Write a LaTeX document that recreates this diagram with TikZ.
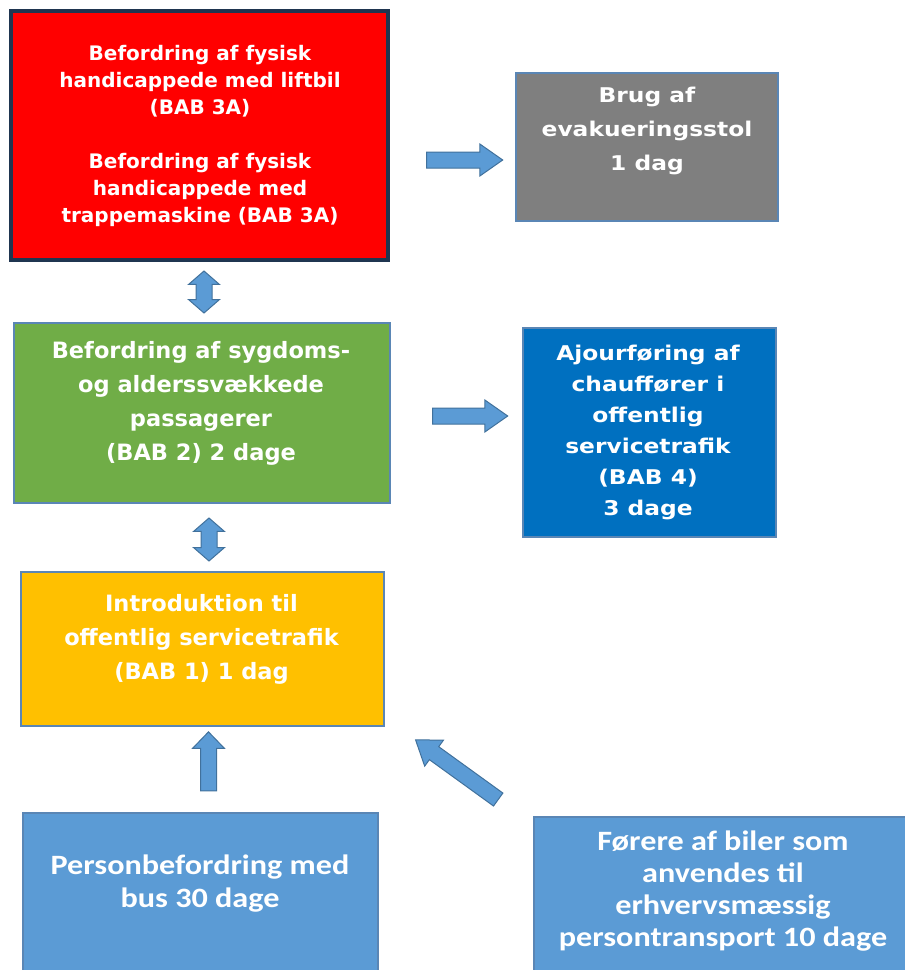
\documentclass[tikz,border=0pt]{standalone}
\usepackage{fontspec}
\setmainfont{DejaVu Sans}
\newfontfamily\widefont{DejaVu Sans}[FakeStretch=1.15]
\newfontfamily\calfont{Carlito}[FakeStretch=1.15]
\usetikzlibrary{shapes.arrows}
\definecolor{redfill}{HTML}{FF0000}
\definecolor{redline}{HTML}{1F3550}
\definecolor{grayfill}{HTML}{7F7F7F}
\definecolor{greenfill}{HTML}{70AD47}
\definecolor{bluefill}{HTML}{0070C0}
\definecolor{yellowfill}{HTML}{FFC000}
\definecolor{lightfill}{HTML}{5B9BD5}
\definecolor{boxline}{HTML}{5A86B5}
\definecolor{arrowline}{HTML}{41719C}
\tikzset{box/.style = {rectangle, draw = boxline, line width = 1.2pt, inner sep = 0}}
\tikzset{txt/.style 2 args = {text = white, align = center, inner sep = 0,
                              font = \bfseries\fontsize{#1}{#2}\selectfont}}
\tikzset{wtxt/.style 2 args = {text = white, align = center, inner sep = 0,
                               font = \widefont\bfseries\fontsize{#1}{#2}\selectfont}}
\tikzset{ctxt/.style 2 args = {text = white, align = center, inner sep = 0,
                               font = \calfont\bfseries\fontsize{#1}{#2}\selectfont}}
\tikzset{blk/.style = {single arrow, draw = arrowline, fill = lightfill, line width = 1pt,
                       inner xsep = 0, inner ysep = 7.5pt, minimum width = 0pt,
                       single arrow head extend = 8pt, single arrow tip angle = 70,
                       sloped, allow upside down}}
\tikzset{dbl/.style = {double arrow, draw = arrowline, fill = lightfill, line width = 1pt,
                       inner xsep = 0, inner ysep = 7.5pt, minimum width = 0pt,
                       double arrow head extend = 7.5pt, double arrow tip angle = 98,
                       sloped, allow upside down}}

\begin{document}
\begin{tikzpicture}[x = 1pt, y = -1pt]
      \useasboundingbox (0, 0) rectangle (905, 970);
      \clip (0, 0) rectangle (905, 970);

      \node [box, fill = redfill, draw = redline, line width = 4.5pt,
             minimum width = 377pt, minimum height = 249pt] (bab3) at (199.5, 135.5) {};
      \node [txt = {20}{27}] (bab3txt) at (200, 136)
            {Befordring af fysisk\\handicappede med liftbil\\(BAB 3A)\\[27pt]
             Befordring af fysisk\\handicappede med\\trappemaskine (BAB 3A)};

      \node [box, fill = grayfill, minimum width = 262pt, minimum height = 148pt] (stol) at (647, 147) {};
      \node [wtxt = {20.3}{34}] (stoltxt) at (647, 131) {Brug af\\evakueringsstol\\1 dag};

      \node [box, fill = greenfill, minimum width = 376pt, minimum height = 180pt] (bab2) at (202, 413) {};
      \node [txt = {22.5}{34}] (bab2txt) at (201, 403)
            {Befordring af sygdoms-\\og alderssvækkede\\passagerer\\(BAB 2) 2 dage};

      \node [box, fill = bluefill, minimum width = 253pt, minimum height = 209pt] (bab4) at (649.5, 432.5) {};
      \node [wtxt = {20.3}{31}] (bab4txt) at (648, 432.5)
            {Ajourføring af\\chauffører i\\offentlig\\servicetrafik\\(BAB 4)\\3 dage};

      \node [box, fill = yellowfill, minimum width = 363pt, minimum height = 154pt] (bab1) at (202.5, 649) {};
      \node [txt = {22.5}{34}] (bab1txt) at (201.5, 639)
            {Introduktion til\\offentlig servicetrafik\\(BAB 1) 1 dag};

      \node [box, fill = lightfill, minimum width = 355pt, minimum height = 187pt] (bus) at (200.5, 906.5) {};
      \node [ctxt = {28}{33}] (bustxt) at (200, 883.5) {Personbefordring med\\bus 30 dage};

      \node [box, fill = lightfill, minimum width = 378pt, minimum height = 183pt] (biler) at (723, 908.5) {};
      \node [ctxt = {28}{32}] (bilertxt) at (723, 891)
            {Førere af biler som\\anvendes til\\erhvervsmæssig\\persontransport 10 dage};

      \coordinate (a1s) at (421, 160);
      \coordinate (a1e) at (497, 160);
      \coordinate (a2s) at (427, 416);
      \coordinate (a2e) at (502, 416);
      \coordinate (d1s) at (204, 271);
      \coordinate (d1e) at (204, 313);
      \coordinate (d2s) at (209, 518);
      \coordinate (d2e) at (209, 561);
      \coordinate (ups) at (208.5, 795);
      \coordinate (upe) at (208.5, 736);
      \coordinate (dgs) at (503, 803);
      \coordinate (dge) at (420, 743);

      \path (a1s) -- node [blk, minimum height = 76pt] (arr1) {} (a1e);
      \path (a2s) -- node [blk, minimum height = 75pt] (arr2) {} (a2e);
      \path (d1s) -- node [dbl, minimum height = 42pt] (dbl1) {} (d1e);
      \path (d2s) -- node [dbl, minimum height = 43pt] (dbl2) {} (d2e);
      \path (ups) -- node [blk, minimum height = 59pt, single arrow tip angle = 88] (arr3) {} (upe);
      \path (dgs) -- node [blk, minimum height = 102pt] (arr4) {} (dge);
    \end{tikzpicture}
\end{document}
